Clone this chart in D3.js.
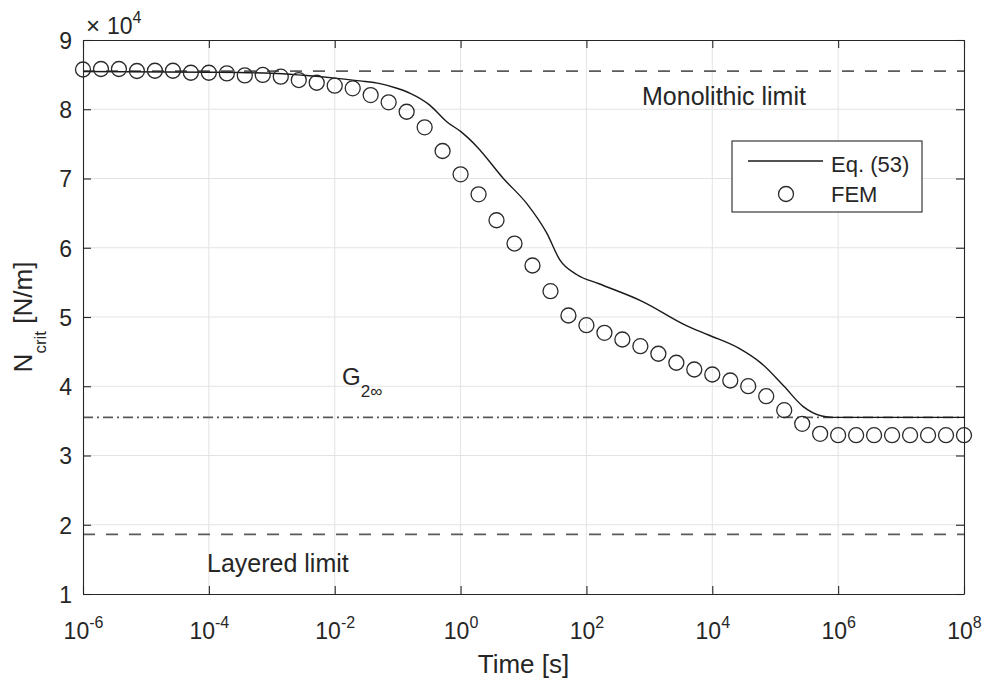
<!DOCTYPE html>
<html>
<head>
<meta charset="utf-8">
<script src="https://cdn.jsdelivr.net/npm/d3@7"></script>
<style>
  html, body { margin: 0; padding: 0; background: #fff; }
  svg text { font-family: "Liberation Sans", Arial, Helvetica, sans-serif; fill: #262626; }
</style>
</head>
<body>
<svg id="chart" width="987" height="684"></svg>
<script>
// ---------- DATA (values in units of 10^4 N/m) ----------
const femLogTime = [
  -6.000, -5.714, -5.429, -5.143, -4.857, -4.571, -4.286, -4.000, -3.714, -3.429,
  -3.143, -2.857, -2.571, -2.286, -2.000, -1.714, -1.429, -1.143, -0.857, -0.571,
  -0.286, 0.000, 0.286, 0.571, 0.857, 1.143, 1.429, 1.714, 2.000, 2.286,
  2.571, 2.857, 3.143, 3.429, 3.714, 4.000, 4.286, 4.571, 4.857, 5.143,
  5.429, 5.714, 6.000, 6.286, 6.571, 6.857, 7.143, 7.429, 7.714, 8.000
];
const femValues = [
  8.574, 8.581, 8.581, 8.552, 8.556, 8.556, 8.527, 8.527, 8.518, 8.489,
  8.495, 8.470, 8.422, 8.383, 8.340, 8.302, 8.205, 8.100, 7.964, 7.739,
  7.397, 7.060, 6.772, 6.397, 6.061, 5.744, 5.373, 5.022, 4.882, 4.772,
  4.675, 4.579, 4.469, 4.339, 4.242, 4.170, 4.083, 4.001, 3.856, 3.654,
  3.457, 3.313, 3.293, 3.293, 3.293, 3.293, 3.293, 3.293, 3.293, 3.293
];
const eqLogTime = [
  -6.0, -4.0, -3.0, -2.5, -2.0, -1.6, -1.28, -1.0, -0.8, -0.49,
  -0.22, 0.0, 0.26, 0.68, 1.05, 1.37, 1.58, 1.85, 2.2, 2.9,
  3.58, 3.94, 4.42, 4.78, 5.14, 5.44, 5.74, 5.92, 8.0
];
const eqValues = [
  8.545, 8.535, 8.52, 8.49, 8.45, 8.41, 8.37, 8.30, 8.23, 8.06,
  7.82, 7.68, 7.46, 7.00, 6.64, 6.21, 5.82, 5.61, 5.48, 5.22,
  4.88, 4.74, 4.55, 4.33, 4.00, 3.71, 3.57, 3.55, 3.55
];
const monolithicLimit = 8.55;
const layeredLimit = 1.86;
const g2InfLevel = 3.55;

const xTickExponents = [-6, -4, -2, 0, 2, 4, 6, 8];
const yTickValues = [1, 2, 3, 4, 5, 6, 7, 8, 9];
const xDomain = [1e-6, 1e8];
const yDomain = [1, 9];
const legendLabels = ["Eq. (53)", "FEM"];

// ---------- LAYOUT ----------
const W = 987, H = 684;
const margin = { left: 83, right: 23, top: 40, bottom: 90 };
const iw = W - margin.left - margin.right;
const ih = H - margin.top - margin.bottom;

const svg = d3.select("#chart");
const g = svg.append("g").attr("transform", `translate(${margin.left},${margin.top})`);

const x = d3.scaleLog().domain(xDomain).range([0, iw]);
const y = d3.scaleLinear().domain(yDomain).range([ih, 0]);

const axisColor = "#262626";
const gridColor = "#e3e3e3";

// grid
g.append("g").selectAll("line.vg")
  .data(xTickExponents.slice(1, -1))
  .join("line")
  .attr("x1", d => x(10 ** d)).attr("x2", d => x(10 ** d))
  .attr("y1", 0).attr("y2", ih)
  .attr("stroke", gridColor).attr("stroke-width", 1);
g.append("g").selectAll("line.hg")
  .data(yTickValues.slice(1, -1))
  .join("line")
  .attr("x1", 0).attr("x2", iw)
  .attr("y1", d => y(d)).attr("y2", d => y(d))
  .attr("stroke", gridColor).attr("stroke-width", 1);

// reference lines
function hLine(v, dash) {
  g.append("line")
    .attr("x1", x(xDomain[0])).attr("x2", x(xDomain[1]))
    .attr("y1", y(v)).attr("y2", y(v))
    .attr("stroke", "#5a5a5a").attr("stroke-width", 1.8)
    .attr("stroke-dasharray", dash);
}
hLine(monolithicLimit, "12,11");
hLine(layeredLimit, "12,11");
hLine(g2InfLevel, "10,4,2,4");

// Eq. (53) line
const eqData = eqLogTime.map((e, i) => ({ t: 10 ** e, v: eqValues[i] }));
g.append("path")
  .datum(eqData)
  .attr("fill", "none")
  .attr("stroke", "#1a1a1a")
  .attr("stroke-width", 1.4)
  .attr("d", d3.line().x(d => x(d.t)).y(d => y(d.v)).curve(d3.curveMonotoneX));

// FEM markers
const femData = femLogTime.map((e, i) => ({ t: 10 ** e, v: femValues[i] }));
g.append("g").selectAll("circle")
  .data(femData)
  .join("circle")
  .attr("cx", d => x(d.t)).attr("cy", d => y(d.v))
  .attr("r", 7.5)
  .attr("fill", "none")
  .attr("stroke", "#2a2a2a")
  .attr("stroke-width", 1.3);

// axes (MATLAB style: ticks inward, box)
const tickFont = 23;
const xAxisB = g.append("g").attr("transform", `translate(0,${ih})`)
  .call(d3.axisBottom(x).tickValues(xTickExponents.map(e => 10 ** e)).tickSize(-8).tickSizeOuter(0).tickPadding(0));
const xAxisT = g.append("g")
  .call(d3.axisTop(x).tickValues(xTickExponents.map(e => 10 ** e)).tickSize(-8).tickSizeOuter(0).tickFormat(""));
const yAxisL = g.append("g")
  .call(d3.axisLeft(y).tickValues(yTickValues).tickSize(-8).tickSizeOuter(0).tickPadding(11).tickFormat(d3.format("d")));
const yAxisR = g.append("g").attr("transform", `translate(${iw},0)`)
  .call(d3.axisRight(y).tickValues(yTickValues).tickSize(-8).tickSizeOuter(0).tickFormat(""));

[xAxisB, xAxisT, yAxisL, yAxisR].forEach(a => {
  a.select(".domain").attr("stroke", axisColor).attr("stroke-width", 1.1);
  a.selectAll(".tick line").attr("stroke", axisColor).attr("stroke-width", 1.1);
});

xAxisB.selectAll(".tick text").each(function (d) {
  const t = d3.select(this);
  const e = Math.round(Math.log10(d));
  t.text(null)
    .attr("y", 45).attr("dy", 0)
    .attr("font-size", tickFont)
    .attr("fill", axisColor)
    .attr("text-anchor", "middle");
  t.append("tspan").text("10");
  t.append("tspan").attr("dy", -11).attr("font-size", 16).text(String(e));
});
yAxisL.selectAll(".tick text")
  .attr("font-size", tickFont)
  .attr("fill", axisColor)
  .attr("dy", "0.36em");

// exponent multiplier
const mult = svg.append("text").attr("x", 86).attr("y", 34).attr("font-size", tickFont);
mult.append("tspan").attr("font-size", 24).text("×");
mult.append("tspan").attr("x", 107).text("10");
mult.append("tspan").attr("dy", -11).attr("font-size", 16).text("4");

// axis labels
svg.append("text")
  .attr("x", margin.left + iw / 2).attr("y", 673)
  .attr("text-anchor", "middle").attr("font-size", 26)
  .text("Time [s]");

const yl = svg.append("text")
  .attr("transform", `translate(32,${margin.top + ih / 2}) rotate(-90)`)
  .attr("text-anchor", "middle").attr("font-size", 26);
yl.append("tspan").text("N");
yl.append("tspan").attr("dy", 14).attr("font-size", 17).text("crit");
yl.append("tspan").attr("dy", -14).text(" [N/m]");

// annotations
svg.append("text").attr("x", 642).attr("y", 105).attr("font-size", 25).text("Monolithic limit");
svg.append("text").attr("x", 207).attr("y", 572).attr("font-size", 25).text("Layered limit");
const gt = svg.append("text").attr("x", 342).attr("y", 385).attr("font-size", 24);
gt.append("tspan").text("G");
gt.append("tspan").attr("dy", 12).attr("font-size", 17).text("2∞");

// legend
const lg = svg.append("g");
lg.append("rect").attr("x", 732).attr("y", 141).attr("width", 190).attr("height", 71)
  .attr("fill", "#fff").attr("stroke", axisColor).attr("stroke-width", 1.1);
lg.append("line").attr("x1", 748).attr("x2", 823).attr("y1", 161).attr("y2", 161)
  .attr("stroke", "#1a1a1a").attr("stroke-width", 1.4);
lg.append("circle").attr("cx", 786).attr("cy", 194).attr("r", 7.5)
  .attr("fill", "none").attr("stroke", "#2a2a2a").attr("stroke-width", 1.3);
lg.append("text").attr("x", 831).attr("y", 172).attr("font-size", 22).text(legendLabels[0]);
lg.append("text").attr("x", 831).attr("y", 202).attr("font-size", 22).text(legendLabels[1]);
</script>
</body>
</html>
